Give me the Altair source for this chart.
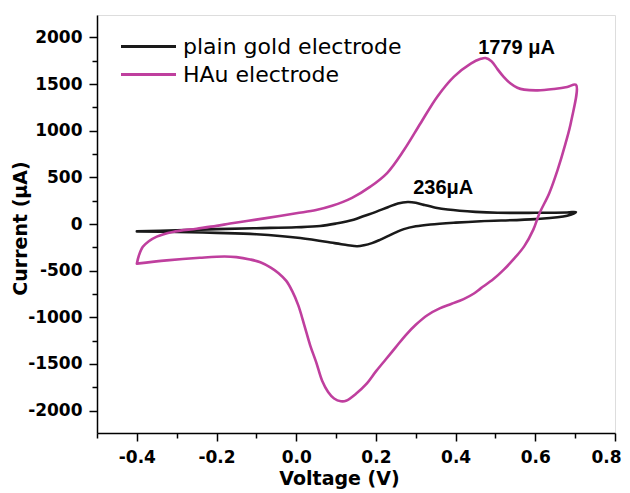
import altair as alt
import pandas as pd

# ---------------- data ----------------
series_names = ["plain gold electrode", "HAu electrode"]
series_colors = ["#1a1a1a", "#BF3F9E"]

gold_v = [-0.400, -0.300, -0.200, -0.100, 0.000, 0.060, 0.100, 0.144, 0.170, 0.200,
          0.230, 0.255, 0.280, 0.300, 0.320, 0.350, 0.380, 0.450, 0.505, 0.600,
          0.680, 0.702,
          0.680, 0.600, 0.463, 0.400, 0.337, 0.300, 0.270, 0.250, 0.230, 0.210,
          0.190, 0.170, 0.153, 0.130, 0.100, 0.010, -0.100, -0.200, -0.300, -0.400]
gold_i = [-78, -68, -55, -45, -35, -22, 5, 46, 85, 130,
          180, 220, 236, 228, 205, 175, 155, 130, 120, 120,
          124, 128,
          88, 52, 30, 15, -5, -25, -55, -90, -130, -170,
          -205, -228, -238, -228, -208, -150, -110, -95, -85, -80]

hau_v = [-0.400, -0.395, -0.385, -0.370, -0.350, -0.310, -0.250, -0.200, -0.166, -0.120,
         -0.080, 0.000, 0.050, 0.090, 0.140, 0.186, 0.228, 0.270, 0.312, 0.354,
         0.396, 0.438, 0.463, 0.475, 0.490, 0.505, 0.520, 0.538, 0.555, 0.572,
         0.606, 0.647, 0.680, 0.702,
         0.690, 0.675, 0.656, 0.635, 0.610, 0.595, 0.572, 0.545, 0.521, 0.495,
         0.463, 0.446, 0.420, 0.390, 0.360, 0.330, 0.300, 0.275, 0.250, 0.225,
         0.200, 0.175, 0.150, 0.125, 0.112, 0.095, 0.080, 0.065, 0.050, 0.035,
         0.020, 0.005, -0.010, -0.025, -0.045, -0.065, -0.090, -0.116, -0.150, -0.180,
         -0.242, -0.325, -0.400]
hau_i = [-425, -340, -245, -185, -135, -85, -50, -20, 5, 35,
         60, 115, 150, 195, 280, 400, 546, 790, 1080, 1365,
         1580, 1720, 1770, 1779, 1745, 1660, 1580, 1505, 1460, 1440,
         1432, 1447, 1468, 1492,
         1100, 850, 580, 330, 110, -60, -240, -380, -489, -590,
         -690, -745, -805, -855, -905, -975, -1080, -1190, -1320, -1450,
         -1580, -1720, -1820, -1895, -1900, -1870, -1800, -1680, -1480, -1300,
         -1080, -870, -720, -610, -525, -465, -410, -380, -355, -348,
         -362, -390, -425]

ann_text = ["1779 μA", "236μA"]
ann_v = [0.553, 0.369]
ann_i = [1885, 385]

x_major = [-0.4, -0.2, 0.0, 0.2, 0.4, 0.6, 0.8]
x_minor = [-0.5, -0.3, -0.1, 0.1, 0.3, 0.5, 0.7]
y_major = [-2000, -1500, -1000, -500, 0, 500, 1000, 1500, 2000]
y_minor = [-1750, -1250, -750, -250, 250, 750, 1250, 1750]
x_domain = [-0.5, 0.8]
y_domain = [-2240, 2240]

# ---------------- tables ----------------
rows = []
for k, (v, i) in enumerate(zip(gold_v, gold_i)):
    rows.append({"series": series_names[0], "v": v, "i": i, "idx": k})
for k, (v, i) in enumerate(zip(hau_v, hau_i)):
    rows.append({"series": series_names[1], "v": v, "i": i, "idx": k})
df = pd.DataFrame(rows)
ann = pd.DataFrame({"text": ann_text, "v": ann_v, "i": ann_i})

xscale = alt.Scale(domain=x_domain, nice=False, zero=False)
yscale = alt.Scale(domain=y_domain, nice=False, zero=False)

MINUS = "\u2212"
tick_style = dict(tickColor="black", tickWidth=1.5, grid=False)

x_axis = alt.Axis(
    values=x_major, orient="bottom",
    labelExpr=f"replace(format(datum.value, '.1f'), '{MINUS}', '-')",
    title="Voltage (V)",
    domainColor="black", domainWidth=1.5, tickSize=8,
    labelFont="DejaVu Sans", labelFontSize=17, labelFontWeight="bold", labelColor="black",
    labelPadding=8, labelFlush=True, labelFlushOffset=6, labelOverlap=False,
    titleFont="DejaVu Sans", titleFontSize=19, titleFontWeight="bold", titleColor="black",
    titleX=242, titleY=51, titleBaseline="alphabetic", titleAlign="center",
    **tick_style,
)
y_axis = alt.Axis(
    values=y_major, orient="left",
    labelExpr="'' + datum.value",
    title="Current (μA)",
    domainColor="black", domainWidth=1.5, tickSize=8,
    labelFont="DejaVu Sans", labelFontSize=17, labelFontWeight="bold", labelColor="black",
    labelPadding=7, labelFlush=False, labelOverlap=False,
    titleFont="DejaVu Sans", titleFontSize=19, titleFontWeight="bold", titleColor="black",
    titleX=-71, titleY=213, titleBaseline="alphabetic", titleAlign="center", titleAngle=270,
    **tick_style,
)
x_minor_axis = alt.Axis(values=x_minor, orient="bottom", tickSize=5, labels=False,
                        domain=False, title=None, **tick_style)
y_minor_axis = alt.Axis(values=y_minor, orient="left", tickSize=5, labels=False,
                        domain=False, title=None, **tick_style)

lines = alt.Chart(df).mark_line(strokeWidth=2.6, strokeJoin="round", strokeCap="round",
                                interpolate="catmull-rom").encode(
    x=alt.X("v:Q", scale=xscale, axis=x_axis),
    y=alt.Y("i:Q", scale=yscale, axis=y_axis),
    color=alt.Color(
        "series:N",
        scale=alt.Scale(domain=series_names, range=series_colors),
        sort=series_names,
        legend=alt.Legend(
            title=None, orient="none", legendX=36, legendY=16,
            symbolType="M-2,0H2", symbolSize=756, symbolStrokeWidth=3,
            labelFont="DejaVu Sans", labelFontSize=22, labelColor="black",
            labelOffset=19, padding=0, rowPadding=1, labelLimit=400,
        ),
    ),
    order=alt.Order("idx:Q"),
    detail="series:N",
)

labels = alt.Chart(ann).mark_text(
    font="Liberation Sans", fontSize=20, fontWeight="bold", color="black",
    align="center", baseline="middle",
).encode(
    x=alt.X("v:Q", scale=xscale, axis=x_minor_axis),
    y=alt.Y("i:Q", scale=yscale, axis=y_minor_axis),
    text="text:N",
)

chart = alt.layer(lines, labels).resolve_axis(x="independent", y="independent").properties(
    width=518, height=418,
    autosize=alt.AutoSizeParams(type="none"),
    padding={"left": 89, "top": 7, "right": 7, "bottom": 60},
).configure_view(stroke="black", strokeWidth=1.5).configure(background="white")

chart.save("out.html", embed_options={"renderer": "svg", "actions": False})
